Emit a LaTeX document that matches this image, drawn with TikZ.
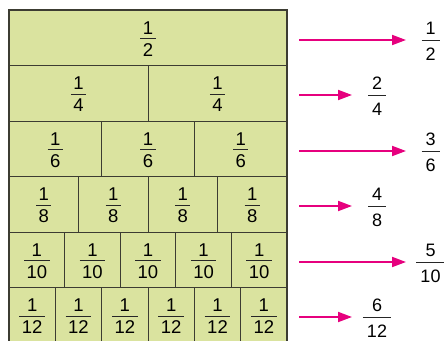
\documentclass[tikz,border=0pt]{standalone}
\usepackage{fontspec}
\setmainfont{Liberation Sans}
\usetikzlibrary{arrows.meta}
\definecolor{barfill}{HTML}{DAE39F}
\definecolor{edgecol}{HTML}{3C3C32}
\definecolor{pinkcol}{HTML}{E6007E}
\begin{document}
\begin{tikzpicture}[x=1pt,y=-1pt,
  cell/.style={draw=edgecol, line width=0.8pt, fill=barfill, minimum height=55.5pt, inner sep=0pt, outer sep=0pt},
  digit/.style={anchor=base, inner ysep=0pt, inner xsep=2.5pt, outer sep=0pt, font=\fontsize{18.5}{20}\selectfont},
  rdigit/.style={anchor=base, inner ysep=0pt, inner xsep=4pt, outer sep=0pt, font=\fontsize{18}{20}\selectfont},
  fracbar/.style={line width=0.9pt, black!85},
  pointer/.style={draw=pinkcol, line width=1.9pt, -{Triangle[length=14pt,width=10pt]}}]
\useasboundingbox (0,0) rectangle (444,340);
\clip (0,0) rectangle (444,340);
\fill[white] (0,0) rectangle (444,340);
\foreach \i in {1,...,6} {
  \pgfmathsetmacro\w{278/\i}
  \pgfmathsetmacro\yc{10+55.5*(\i-0.5)}
  \pgfmathsetmacro\yb{\yc+1}
  \pgfmathtruncatemacro\d{2*\i}
  \foreach \j in {1,...,\i} {
    \pgfmathsetmacro\xc{9+\w*(\j-0.5)}
    \node[cell, minimum width=\w pt] (c\i-\j) at (\xc,\yc) {};
    \coordinate (b\i-\j) at (\xc,\yb);
    \node[digit] (n\i-\j) at (\xc,\yb-4.3) {1};
    \node[digit] (d\i-\j) at (\xc,\yb+17.5) {\d};
    \draw[fracbar] (d\i-\j.west |- b\i-\j) -- (d\i-\j.east |- b\i-\j);
  }
  \pgfmathsetmacro\ya{round(\yc+2)}
  \pgfmathsetmacro\xe{mod(\i,2)==1 ? 406 : 352}
  \pgfmathsetmacro\xr{mod(\i,2)==1 ? 430.5 : 377}
  \coordinate (s\i) at (299,\ya);
  \coordinate (e\i) at (\xe,\ya);
  \coordinate (rb\i) at (\xr,\ya+0.5);
  \node[rdigit] (rn\i) at (\xr,\ya-5.3) {\i};
  \node[rdigit] (rd\i) at (\xr,\ya+20) {\d};
  \draw[fracbar] (rd\i.west |- rb\i) -- (rd\i.east |- rb\i);
  \draw[pointer] (s\i) -- (e\i);
}
\draw[edgecol, line width=1.6pt] (c1-1.north west) rectangle (c6-6.south east);
\end{tikzpicture}
\end{document}
